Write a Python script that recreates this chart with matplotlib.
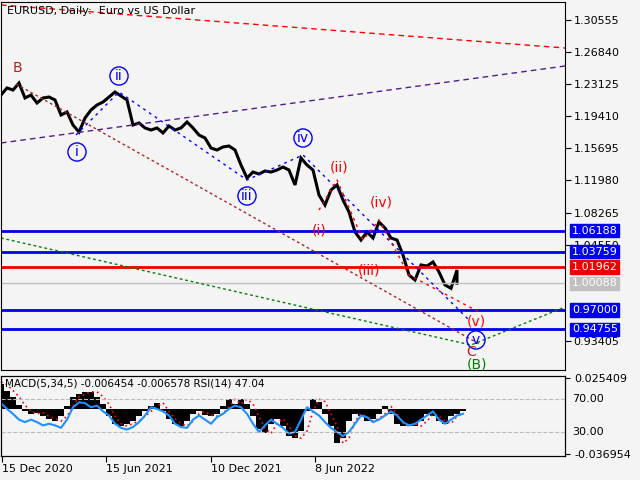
import numpy as np
import matplotlib
matplotlib.use("Agg")
import matplotlib.pyplot as plt

# ---- data ----
price = [1.2187,1.2269,1.2245,1.2326,1.2153,1.2187,1.2095,1.2153,1.2164,1.2130,
         1.1956,1.1991,1.1840,1.1759,1.1921,1.2014,1.2072,1.2106,1.2164,1.2222,
         1.2176,1.2130,1.1840,1.1864,1.1806,1.1782,1.1806,1.1748,1.1829,1.1782,
         1.1806,1.1875,1.1806,1.1724,1.1690,1.1574,1.1551,1.1586,1.1597,1.1551,
         1.1377,1.1227,1.1296,1.1273,1.1308,1.1296,1.1319,1.1354,1.1319,1.1146,
         1.1458,1.1377,1.1319,1.1030,1.0914,1.1088,1.1146,1.0972,1.0833,1.0602,
         1.0509,1.0602,1.0532,1.0718,1.0648,1.0532,1.0509,1.0336,1.0104,1.0046,
         1.0220,1.0208,1.0255,1.0139,0.9989,0.9950,1.0162,1.0009]
macd_hist = [20,15,10,3,-2,-4,-3,-6,-8,-10,-6,2,10,12,14,14,10,4,-6,-12,-14,-12,-10,-6,-2,2,5,
             -2,-8,-12,-14,-10,-4,-2,-5,-6,-4,2,8,4,8,4,-6,-16,-20,-12,-8,-14,-22,-24,-18,-2,8,6,
             -4,-14,-28,-24,-10,-4,-6,-10,-8,-4,2,-4,-12,-14,-12,-14,-10,-4,-6,-10,-12,-6,-4,-2]
macd_signal = [22,20,15,10,3,-2,-4,-3,-6,-8,-10,-6,2,10,12,14,14,10,4,-6,-12,-14,-12,-10,-6,-2,2,
               5,-2,-8,-12,-14,-10,-4,-2,-5,-6,-4,2,8,4,8,4,-6,-16,-20,-12,-8,-14,-22,-24,-18,-2,8,
               6,-4,-14,-28,-24,-10,-4,-6,-10,-8,-4,2,-4,-12,-14,-12,-14,-10,-4,-6,-10,-12,-6,-4]
rsi = [65,58,52,45,42,45,42,38,40,38,35,45,60,66,65,60,62,55,50,40,35,33,36,42,50,60,58,55,
       50,40,36,35,45,50,45,40,48,52,58,62,60,52,40,30,38,45,40,35,28,30,45,60,55,50,42,35,
       30,25,30,40,50,48,42,45,50,55,50,42,38,40,45,50,55,45,40,45,50,52]
date_labels = ["15 Dec 2020", "15 Jun 2021", "10 Dec 2021", "8 Jun 2022"]
price_ticks = [1.30555,1.26840,1.23125,1.19410,1.15695,1.11980,1.08265,1.04550,0.93405]
levels = [1.06188, 1.03759, 1.01962, 1.00088, 0.97000, 0.94755]
level_colors = ["#0000ee", "#0000ee", "#ee0000", "#c0c0c0", "#0000ee", "#0000ee"]

BG = "#f4f4f4"
fig = plt.figure(figsize=(6.4, 4.8), dpi=100, facecolor=BG)
ax = fig.add_axes([1/640, 1-370/480, 564/640, 368/480], facecolor=BG)
ax2 = fig.add_axes([1/640, 1-456/480, 564/640, 80/480], facecolor=BG)

def p(y):  # pixel -> price helper for annotation placement
    return 1.30555 - (y - 20) / 864.0

xs = np.arange(len(price)) * 6.0
xs[-1] = 456
ax.plot(xs, price, color="black", lw=2.2, solid_joinstyle="miter")
ax.set_xlim(0, 564)
ax.set_ylim(p(370), p(2))

for lv, c in zip(levels, level_colors):
    ax.axhline(lv, color=c, lw=2 if c != "#c0c0c0" else 1)

# trend / channel lines
ax.plot([0, 564], [p(5), p(48)], color="red", ls=(0, (4, 3)), lw=1)
ax.plot([0, 564], [p(143), p(66)], color="#551a8b", ls=(0, (4, 3)), lw=1)
ax.plot([15, 480], [p(84), p(345)], color="#a52a2a", ls=(0, (2, 2)), lw=1)
ax.plot([0, 320, 470, 564], [p(238), p(311), p(345), p(307)], color="green", ls=(0, (2, 2)), lw=1)
ax.plot([75, 118, 246, 302, 468], [p(135), p(92), p(180), p(155), p(320)], color="blue", ls=(0, (2, 3)), lw=1)
ax.plot([318, 336, 362, 378, 408, 478], [p(210), p(180), p(240), p(220), p(275), p(312)], color="red", ls=(0, (2, 3)), lw=1)

def circ(x, y, t, c):
    ax.text(x, p(y), t, color=c, fontsize=10, ha="center", va="center",
            bbox=dict(boxstyle="circle,pad=0.15", fc="none", ec=c, lw=1))
circ(76, 152, "i", "blue"); circ(118, 76, "ii", "blue"); circ(246, 196, "iii", "blue")
circ(302, 138, "iv", "blue"); circ(475, 340, "v", "blue")
for x, y, t in [(318, 231, "(i)"), (338, 168, "(ii)"), (368, 270, "(iii)"), (380, 203, "(iv)"), (475, 322, "(v)")]:
    ax.text(x, p(y), t, color="red", fontsize=10, ha="center", va="center")
ax.text(16, p(68), "B", color="#b22222", fontsize=10, ha="center", va="center")
ax.text(470, p(352), "C", color="#b22222", fontsize=10, ha="center", va="center")
ax.text(476, p(364), "(B)", color="green", fontsize=10, ha="center", va="center")
ax.text(6, p(11), "EURUSD, Daily:  Euro vs US Dollar", fontsize=8, va="center")

ax.yaxis.tick_right()
ax.set_yticks(price_ticks)
ax.set_yticklabels([f"{t:.5f}" for t in price_ticks], fontsize=8)
ax.tick_params(axis="y", length=4, pad=2)
ax.set_xticks([])
for lv, c in zip(levels, level_colors):
    ax.text(1.012, lv, f"{lv:.5f}", transform=ax.get_yaxis_transform(), fontsize=8,
            color="white", va="center", ha="left",
            bbox=dict(boxstyle="square,pad=0.15", fc=c, ec=c))

# ---- lower panel ----
hx = np.arange(len(macd_hist)) * 6.0
ax2.bar(hx, np.array(macd_hist) * 0.001, width=6.2, color="black")
ax2.plot(np.arange(len(macd_signal)) * 6.0, np.array(macd_signal) * 0.001, color="red", ls=(0, (1, 2)), lw=1.2)
ax2.set_xlim(0, 564)
ax2.set_ylim(-0.036954 - 0.0015, 0.025409 + 0.0015)
r = ax2.twinx()
r.plot(np.arange(len(rsi)) * 6.0, rsi, color="#1e90ff", lw=1.5)
r.set_ylim(0.9, 97.9)
r.axhline(70, color="#bbbbbb", ls="--", lw=0.8)
r.axhline(30, color="#bbbbbb", ls="--", lw=0.8)
r.set_yticks([])
ax2.yaxis.tick_right()
ax2.set_yticks([0.025409, -0.036954])
ax2.set_yticklabels(["0.025409", "-0.036954"], fontsize=8)
ax2.text(1.012, 70, "70.00", transform=r.get_yaxis_transform(), fontsize=8, va="center")
ax2.text(1.012, 30, "30.00", transform=r.get_yaxis_transform(), fontsize=8, va="center")
ax2.text(4, 0.021, "MACD(5,34,5) -0.006454 -0.006578 RSI(14) 47.04", fontsize=7.5, va="center")
ax2.set_xticks([1, 105, 210, 314])
ax2.set_xticklabels(date_labels, fontsize=8, ha="left")
ax2.tick_params(axis="x", length=4, pad=2)

fig.savefig("out.png", dpi=100, facecolor=BG)
